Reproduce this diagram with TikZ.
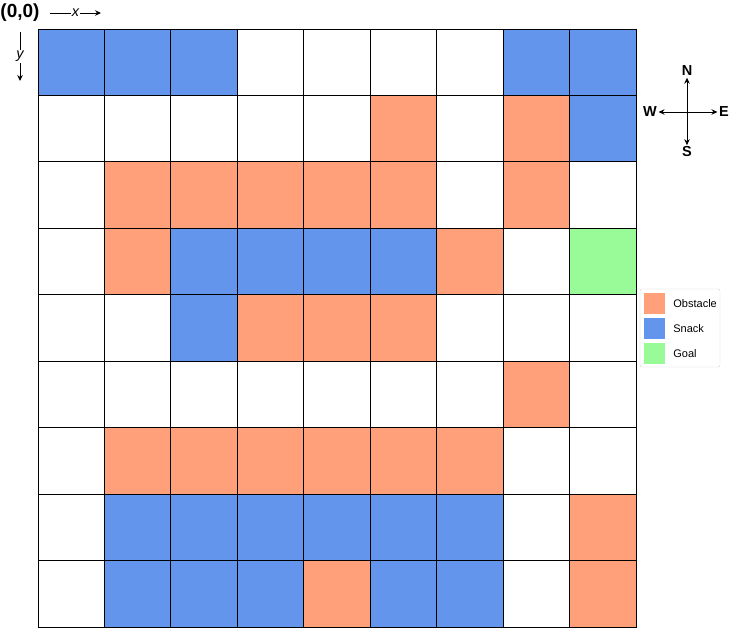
\documentclass[tikz,border=0pt]{standalone}
\usepackage{fontspec}
\setmainfont{Liberation Sans}
\usetikzlibrary{arrows.meta,positioning}
\definecolor{obstacle}{RGB}{255,160,122}
\definecolor{snack}{RGB}{100,149,237}
\definecolor{goal}{RGB}{152,251,152}
\definecolor{legendline}{RGB}{208,208,208}
\colorlet{tileW}{white}
\colorlet{tileO}{obstacle}
\colorlet{tileB}{snack}
\colorlet{tileG}{goal}

\begin{document}
\begin{tikzpicture}[x=1pt,y=-1pt,
    tile/.style={draw=black,line width=0.8pt,minimum size=66.44pt,
      inner sep=0pt,outer sep=0pt,anchor=north west},
    swatch/.style={minimum width=21pt,minimum height=21pt,inner sep=0pt},
    legtext/.style={font=\fontsize{11}{12}\selectfont,anchor=west,inner sep=0pt},
    compass/.style={font=\bfseries\fontsize{14.5}{15}\selectfont,inner sep=1.5pt},
    tip/.style={-{Stealth[length=6pt,width=5.5pt]},line width=0.9pt}]
  \useasboundingbox (0,0) rectangle (745,635);

  % the grid, row by row
  \foreach \row [count=\r from 0] in {
      {B,B,B,W,W,W,W,B,B},
      {W,W,W,W,W,O,W,O,B},
      {W,O,O,O,O,O,W,O,W},
      {W,O,B,B,B,B,O,W,G},
      {W,W,B,O,O,O,W,W,W},
      {W,W,W,W,W,W,W,O,W},
      {W,O,O,O,O,O,O,W,W},
      {W,B,B,B,B,B,B,W,O},
      {W,B,B,B,O,B,B,W,O}}{
    \foreach \c [count=\k from 0] in \row
      \node[tile,fill=tile\c] (cell-\r-\k) at (38+66.44*\k,29+66.44*\r) {};
  }

  % origin and axes
  \node[font=\bfseries\fontsize{19}{20}\selectfont,inner sep=0pt] (origin) at (20,13) {(0,0)};
  \coordinate (xstart) at (50,13);
  \coordinate (xend) at (101,13);
  \draw[tip] (xstart) -- (xend)
    node[midway,fill=white,inner sep=1pt,font=\itshape\fontsize{14.5}{15}\selectfont] {x};
  \coordinate (ystart) at (20,32);
  \coordinate (yend) at (20,81);
  \draw[tip] (ystart) -- (yend)
    node[midway,fill=white,inner sep=1pt,font=\itshape\fontsize{14.5}{15}\selectfont] {y};

  % compass
  \coordinate (hub) at (687,112);
  \node[compass] (north) at (687,71) {N};
  \node[compass] (south) at (687,152) {S};
  \node[compass] (west) at (650,112) {W};
  \node[compass] (east) at (724,112) {E};
  \foreach \dir in {north,south,west,east}
    \draw[tip] (hub) -- (\dir);

  % legend
  \node[draw=legendline,rounded corners=2pt,minimum width=80pt,
    minimum height=78pt,inner sep=0pt] (legend) at (680,328) {};
  \node[swatch,fill=obstacle] (key-o) at (654.5,303.5) {};
  \node[swatch,fill=snack] (key-s) at (654.5,328.5) {};
  \node[swatch,fill=goal] (key-g) at (654.5,353.5) {};
  \node[legtext,right=8pt of key-o] {Obstacle};
  \node[legtext,right=8pt of key-s] {Snack};
  \node[legtext,right=8pt of key-g] {Goal};
\end{tikzpicture}
\end{document}
